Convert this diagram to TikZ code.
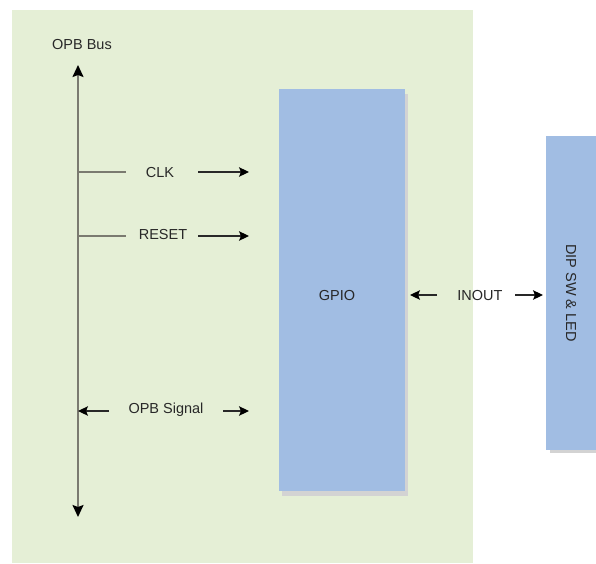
\documentclass[tikz,border=0pt]{standalone}
\usepackage{fontspec}
\setmainfont{Liberation Sans}
\usetikzlibrary{arrows.meta,shadows}
\definecolor{bggreen}{RGB}{229,239,214}
\definecolor{boxblue}{RGB}{161,189,227}
\definecolor{shadowgray}{RGB}{211,211,211}
\definecolor{busgray}{RGB}{122,122,112}
\definecolor{linedark}{RGB}{40,40,40}
\tikzset{
  blockbox/.style={fill=boxblue, draw=none, inner sep=0pt,
    drop shadow={shadow xshift=3pt, shadow yshift=-5pt, fill=shadowgray, opacity=1}},
  dipbox/.style={fill=boxblue, draw=none, inner sep=0pt,
    drop shadow={shadow xshift=4pt, shadow yshift=-3pt, fill=shadowgray, opacity=1}},
  lbl/.style={font=\fontsize{14.5}{16}\selectfont, text=linedark, inner sep=0pt},
  busline/.style={draw=busgray, line width=1.8pt},
  sigarrow/.style={draw=linedark, line width=1.1pt, -{Stealth[length=10pt,width=9.5pt,inset=2pt,black]}},
  sigline/.style={draw=busgray, line width=1.3pt},
  bustip/.style={busline, {Stealth[length=12pt,width=11pt,inset=2pt,black]}-{Stealth[length=12pt,width=11pt,inset=2pt,black]}}
}
\begin{document}
\begin{tikzpicture}[x=1pt,y=-1pt]
\useasboundingbox (0,0) rectangle (596,563);
\begin{scope}
\clip (0,0) rectangle (596,563);
% background
\fill[bggreen] (12,10) rectangle (473,563);
% blocks
\node[blockbox, minimum width=126pt, minimum height=402pt] (gpio) at (342,290) {};
\node[lbl] (gpiot) at (337,295) {GPIO};
\node[dipbox, minimum width=50pt, minimum height=314pt] (dip) at (571,293) {};
\node[lbl, rotate=-90] (dipt) at (571,293) {DIP SW \& LED};
% bus
\node[lbl] (busl) at (82,45) {OPB Bus};
\coordinate (bustop) at (78,65);
\coordinate (busbot) at (78,517);
\draw[bustip] (bustop) -- (busbot);
% CLK
\coordinate (clkA) at (78,172);
\coordinate (clkB) at (126,172);
\node[lbl] (clk) at (160,173) {CLK};
\coordinate (clkC) at (198,172);
\coordinate (clkD) at (249,172);
\draw[sigline] (clkA) -- (clkB);
\draw[sigarrow] (clkC) -- (clkD);
% RESET
\coordinate (rstA) at (78,236);
\coordinate (rstB) at (126,236);
\node[lbl] (rst) at (163,235) {RESET};
\coordinate (rstC) at (198,236);
\coordinate (rstD) at (249,236);
\draw[sigline] (rstA) -- (rstB);
\draw[sigarrow] (rstC) -- (rstD);
% OPB Signal
\coordinate (opbA) at (109,411);
\coordinate (opbB) at (78,411);
\node[lbl] (opb) at (166,410) {OPB Signal};
\coordinate (opbC) at (223,411);
\coordinate (opbD) at (249,411);
\draw[sigarrow] (opbA) -- (opbB);
\draw[sigarrow] (opbC) -- (opbD);
% INOUT
\coordinate (ioA) at (437,295);
\coordinate (ioB) at (410,295);
\node[lbl] (io) at (480,295) {INOUT};
\coordinate (ioC) at (515,295);
\coordinate (ioD) at (543,295);
\draw[sigarrow] (ioA) -- (ioB);
\draw[sigarrow] (ioC) -- (ioD);
\end{scope}
\end{tikzpicture}
\end{document}
